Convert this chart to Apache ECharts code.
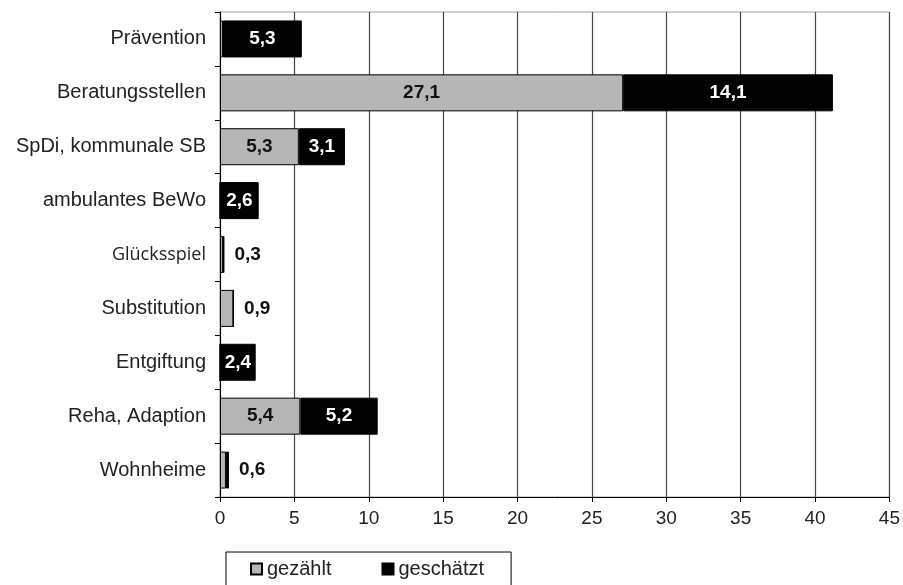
<!DOCTYPE html>
<html><head><meta charset="utf-8">
<script src="https://cdn.jsdelivr.net/npm/echarts@6/dist/echarts.min.js"></script>
<style>html,body{margin:0;padding:0;background:#fff}#c{width:903px;height:585px}</style>
</head><body><div id="c"></div>
<script>
const categories = ['Prävention','Beratungsstellen','SpDi, kommunale SB','ambulantes BeWo','Glücksspiel','Substitution','Entgiftung','Reha, Adaption','Wohnheime'];
const gezaehlt = [0.2, 27.1, 5.3, 0, 0.2, 0.9, 0, 5.4, 0.4];
const geschaetzt = [5.3, 14.1, 3.1, 2.6, 0.1, 0, 2.4, 5.2, 0.2];
const shownTotals = [null, null, null, null, 0.3, 0.9, null, null, 0.6];
const xTicks = [0,5,10,15,20,25,30,35,40,45];

const fmt = v => String(v).replace('.', ',');
const FONT = 'Liberation Sans, Arial, sans-serif';

const chart = echarts.init(document.getElementById('c'));
chart.setOption({
  animation: false,
  grid: {left: 220, right: 13, top: 12, bottom: 88, show: true, borderColor: '#a0a0a0', borderWidth: 1},
  xAxis: {
    type: 'value', min: xTicks[0], max: xTicks[xTicks.length-1], interval: 5,
    axisLine: {show: true, lineStyle: {color: '#000', width: 1}},
    axisTick: {show: true, length: 5, lineStyle: {color: '#000'}},
    axisLabel: {fontFamily: FONT, fontSize: 19, color: '#222', margin: 12},
    splitLine: {show: true, lineStyle: {color: '#444', width: 1.2}}
  },
  yAxis: {
    type: 'category', data: categories, inverse: true,
    axisLine: {show: true, lineStyle: {color: '#000', width: 1}},
    axisTick: {show: true, length: 5, inside: false, lineStyle: {color: '#000'}},
    axisLabel: {
      fontFamily: FONT, fontSize: 20, color: '#222', margin: 14,
      formatter: v => v === 'Glücksspiel' ? '{o|' + v + '}' : v,
      rich: {o: {fontFamily: 'Open Sans', fontSize: 18, color: '#222'}}
    }
  },
  legend: {
    left: 226, top: 552, itemWidth: 11, itemHeight: 11, itemGap: 50,
    padding: [7, 27, 10, 24],
    borderColor: '#000', borderWidth: 1, icon: 'rect',
    textStyle: {fontFamily: FONT, fontSize: 20, color: '#222'},
    data: ['gezählt', 'geschätzt']
  },
  series: [
    {
      name: 'gezählt', type: 'bar', stack: 's', barWidth: 37,
      itemStyle: {color: '#b6b6b6', borderColor: '#000', borderWidth: 1},
      data: gezaehlt.map(v => ({
        value: v,
        label: {show: v >= 2, position: 'inside', formatter: p => fmt(p.value),
          fontFamily: FONT, fontWeight: 'bold', fontSize: 19, color: '#111'}
      }))
    },
    {
      name: 'geschätzt', type: 'bar', stack: 's', barWidth: 37,
      itemStyle: {color: '#000', borderColor: '#000', borderWidth: 1},
      data: geschaetzt.map((v, i) => ({
        value: v,
        label: shownTotals[i] !== null
          ? {show: true, position: 'right', distance: 10, formatter: () => fmt(shownTotals[i]),
             fontFamily: FONT, fontWeight: 'bold', fontSize: 19, color: '#111'}
          : {show: v >= 2, position: 'inside', formatter: p => fmt(p.value),
             fontFamily: FONT, fontWeight: 'bold', fontSize: 19, color: '#fff'}
      }))
    }
  ]
});
</script></body></html>
